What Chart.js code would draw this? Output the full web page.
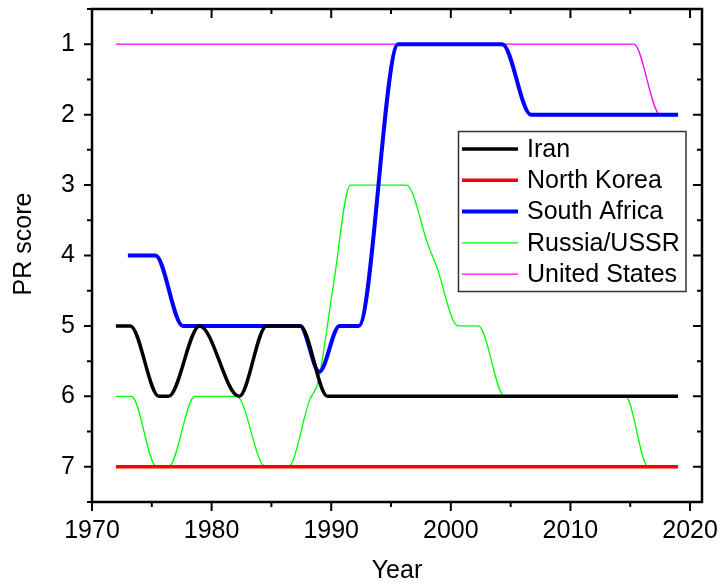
<!DOCTYPE html>
<html>
<head>
<meta charset="utf-8">
<script src="https://cdn.jsdelivr.net/npm/chart.js@4.4.0/dist/chart.umd.min.js"></script>
<style>
  html, body { margin: 0; padding: 0; background: #fff; }
</style>
</head>
<body>
<canvas id="prChart" width="721" height="586"></canvas>
<script>
// PR score by year, key points of each curve
const iranYears = [1972, 1973.2, 1975.6, 1976.4, 1979.0, 1982.3, 1984.6, 1987.4, 1989.7, 2019];
const iranScores = [5, 5, 6, 6, 5, 6, 5, 5, 6, 6];

const nkYears = [1972, 2019];
const nkScores = [7, 7];

const saYears = [1973, 1975.3, 1977.6, 1987.4, 1989.0, 1990.7, 1992.3, 1995.6, 2004.3, 2006.7, 2019];
const saScores = [4, 4, 5, 5, 5.65, 5, 5, 1, 1, 2, 2];

const ruYears = [1972, 1973.3, 1975.4, 1976.4, 1978.6, 1982.1, 1984.5, 1986.4, 1988.2, 1988.9, 1990.2, 1991.6,
                 1996.3, 1998.1, 1998.8, 2000.6, 2002.3, 2004.5, 2014.6, 2016.5, 2019];
const ruScores = [6, 6, 7, 7, 6, 6, 7, 7, 6.05, 5.8, 4.4, 3,
                  3, 3.85, 4.15, 5, 5, 6, 6, 7, 7];

const usYears = [1972, 2015.3, 2017.5, 2019];
const usScores = [1, 1, 2, 2];

const xTicks = [1970, 1980, 1990, 2000, 2010, 2020];
const xMinor = [1975, 1985, 1995, 2005, 2015];
const yTicks = [1, 2, 3, 4, 5, 6, 7];
const yMinor = [0.5, 1.5, 2.5, 3.5, 4.5, 5.5, 6.5, 7.5];

const FONT = "'Liberation Sans', Arial, sans-serif";

function pts(xs, ys) {
  return xs.map((x, i) => ({ x: x, y: ys[i] }));
}

function series(label, xs, ys, color, width) {
  return {
    label: label,
    data: pts(xs, ys),
    borderColor: color,
    backgroundColor: color,
    borderWidth: width,
    pointRadius: 0,
    cubicInterpolationMode: 'monotone',
    fill: false
  };
}

// frame, ticks on all four sides, axis titles and the legend box
const framePlugin = {
  id: 'frame',
  afterDraw(chart) {
    const ctx = chart.ctx;
    const a = chart.chartArea;
    const x = chart.scales.x, y = chart.scales.y;
    ctx.save();
    ctx.strokeStyle = '#000';
    ctx.lineWidth = 2.5;
    ctx.strokeRect(a.left, a.top, a.right - a.left, a.bottom - a.top);

    ctx.lineWidth = 2;
    ctx.beginPath();
    xTicks.forEach(v => {
      const px = x.getPixelForValue(v);
      ctx.moveTo(px, a.bottom); ctx.lineTo(px, a.bottom + 9);
      ctx.moveTo(px, a.top); ctx.lineTo(px, a.top + 9);
    });
    xMinor.forEach(v => {
      const px = x.getPixelForValue(v);
      ctx.moveTo(px, a.bottom); ctx.lineTo(px, a.bottom + 5);
      ctx.moveTo(px, a.top); ctx.lineTo(px, a.top + 5);
    });
    yTicks.forEach(v => {
      const py = y.getPixelForValue(v);
      ctx.moveTo(a.left, py); ctx.lineTo(a.left - 8, py);
      ctx.moveTo(a.right, py); ctx.lineTo(a.right - 9, py);
    });
    yMinor.forEach(v => {
      const py = y.getPixelForValue(v);
      ctx.moveTo(a.left, py); ctx.lineTo(a.left - 5, py);
      ctx.moveTo(a.right, py); ctx.lineTo(a.right - 5, py);
    });
    ctx.stroke();

    // axis titles
    ctx.fillStyle = '#000';
    ctx.font = '25px ' + FONT;
    ctx.textAlign = 'center';
    ctx.textBaseline = 'middle';
    ctx.fillText('Year', 397, 571);
    ctx.save();
    ctx.translate(24, 244);
    ctx.rotate(-Math.PI / 2);
    ctx.fillText('PR score', 0, 0);
    ctx.restore();

    // legend
    const lx = 458.5, ly = 131.5, lw = 227.5, lh = 160;
    ctx.fillStyle = '#fff';
    ctx.fillRect(lx, ly, lw, lh);
    ctx.strokeStyle = '#333';
    ctx.lineWidth = 1.5;
    ctx.strokeRect(lx, ly, lw, lh);
    ctx.textAlign = 'left';
    chart.data.datasets.forEach((ds, i) => {
      const cy = 149 + i * 31.3;
      ctx.strokeStyle = ds.borderColor;
      ctx.lineWidth = ds.borderWidth;
      ctx.beginPath();
      ctx.moveTo(462, cy);
      ctx.lineTo(518, cy);
      ctx.stroke();
      ctx.fillStyle = '#000';
      ctx.fillText(ds.label, 527, cy + 1);
    });
    ctx.restore();
  }
};

new Chart(document.getElementById('prChart'), {
  type: 'line',
  data: {
    datasets: [
      series('Iran', iranYears, iranScores, '#000000', 3.5),
      series('North Korea', nkYears, nkScores, '#ff0000', 3.5),
      series('South Africa', saYears, saScores, '#0000ff', 4),
      series('Russia/USSR', ruYears, ruScores, '#00ff00', 1.3),
      series('United States', usYears, usScores, '#ff00ff', 1.3)
    ]
  },
  options: {
    responsive: false,
    animation: false,
    devicePixelRatio: 1,
    layout: { padding: { top: 9, right: 19, bottom: 0, left: 0 } },
    plugins: {
      legend: { display: false },
      tooltip: { enabled: false }
    },
    scales: {
      x: {
        type: 'linear',
        min: 1970,
        max: 2021,
        grid: { display: false, drawTicks: false },
        border: { display: false },
        ticks: {
          color: '#000', font: { family: FONT, size: 25 }, padding: 14, maxRotation: 0,
          callback: v => String(v)
        },
        afterBuildTicks: s => { s.ticks = xTicks.map(v => ({ value: v })); },
        afterFit: s => { s.height = 84; s.paddingLeft = 0; s.paddingRight = 0; }
      },
      y: {
        type: 'linear',
        min: 0.5,
        max: 7.5,
        reverse: true,
        grid: { display: false, drawTicks: false },
        border: { display: false },
        ticks: {
          color: '#000', font: { family: FONT, size: 25 }, padding: 17,
          callback: v => String(v)
        },
        afterBuildTicks: s => { s.ticks = yTicks.map(v => ({ value: v })); },
        afterFit: s => { s.width = 92; s.paddingTop = 0; s.paddingBottom = 0; }
      }
    }
  },
  plugins: [framePlugin]
});
</script>
</body>
</html>
